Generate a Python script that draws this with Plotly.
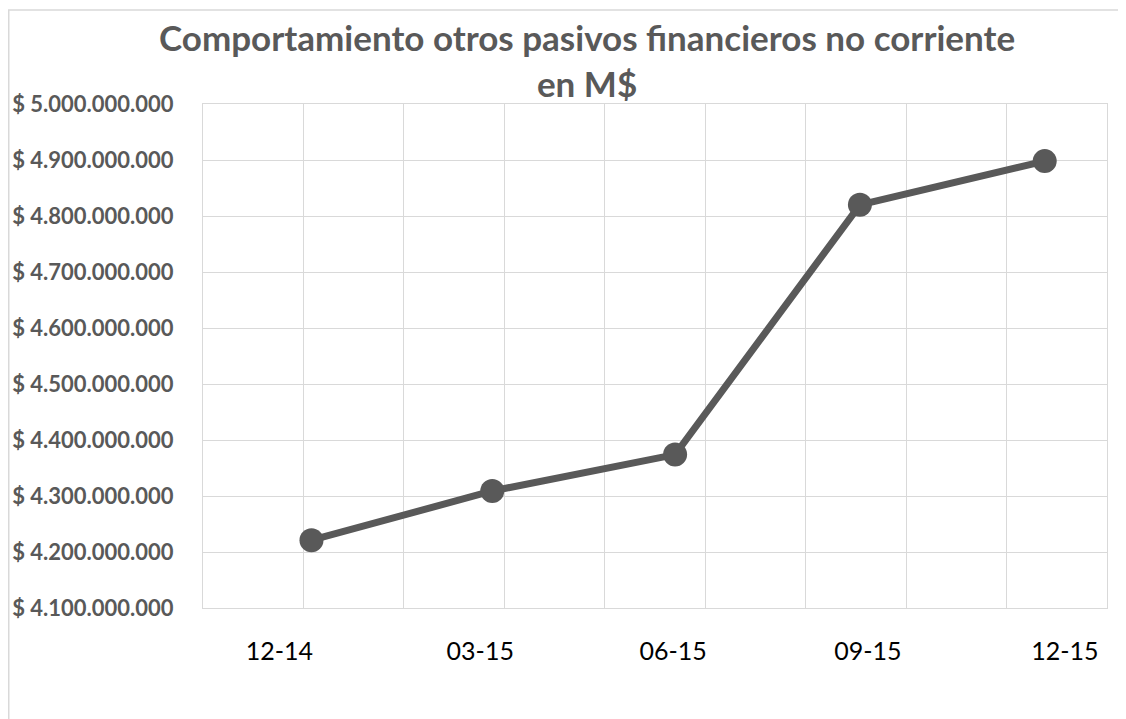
import plotly.graph_objects as go

# data
periods = ["2014-12-31", "2015-03-31", "2015-06-30", "2015-09-30", "2015-12-31"]
values = [4221000000, 4309000000, 4374000000, 4820000000, 4898000000]
tick_labels = ["12-14", "03-15", "06-15", "09-15", "12-15"]

# layout constants (where Excel put the date labels)
label_pos = ["2014-12-15", "2015-03-25", "2015-06-29", "2015-10-04", "2016-01-10"]
DAY_MS = 86400000

GRID = "#d9d9d9"
DARK = "#595959"

# page body has an 8px margin, so the figure is a bit smaller than the window
W, H = 1118, 711
L, R, T, B = 195, 19, 96, 111
PW, PH = W - L - R, H - T - B


def px(x):
    return (x - L) / PW


def py(y):
    return (H - B - y) / PH


fig = go.Figure()

fig.add_trace(go.Scatter(
    x=periods,
    y=values,
    mode="lines+markers",
    line=dict(color=DARK, width=7),
    marker=dict(color=DARK, size=24),
    showlegend=False,
    hoverinfo="x+y",
))

fig.update_layout(
    width=W,
    height=H,
    autosize=False,
    paper_bgcolor="white",
    plot_bgcolor="white",
    separators=",.",
    margin=dict(l=L, r=R, t=T, b=B),
    font=dict(family="Lato, sans-serif"),
)

fig.add_annotation(
    text="<b>Comportamiento otros pasivos financieros no corriente<br>en M$</b>",
    xref="paper", yref="paper",
    x=px(579), y=py(6),
    xanchor="center", yanchor="top",
    showarrow=False,
    font=dict(size=35, color=DARK),
)

fig.update_xaxes(
    type="date",
    range=["2014-11-07", "2016-01-31"],
    tickvals=label_pos,
    ticktext=tick_labels,
    ticks="",
    showgrid=False,
    automargin=False,
    tickfont=dict(size=25, color="black"),
    ticklabelstandoff=21,
    showline=True,
    linecolor=GRID,
    linewidth=1,
    mirror=True,
    minor=dict(tick0="2014-11-07", dtick=50 * DAY_MS, showgrid=True,
               gridcolor=GRID, gridwidth=1),
    zeroline=False,
)

fig.update_yaxes(
    range=[4100000000, 5000000000],
    dtick=100000000,
    tickformat=",.0f",
    tickprefix="$ ",
    automargin=False,
    tickfont=dict(size=22, color=DARK, family="Lato, sans-serif", weight="bold"),
    ticklabelstandoff=24,
    gridcolor=GRID,
    gridwidth=1,
    showline=True,
    linecolor=GRID,
    linewidth=1,
    mirror=True,
    zeroline=False,
)

# chart area border, as in the Excel export
fig.add_shape(
    type="rect", xref="paper", yref="paper",
    x0=px(0.75), x1=px(W + 20),
    y0=py(H + 20), y1=py(2),
    line=dict(color=GRID, width=1.5),
    fillcolor="rgba(0,0,0,0)",
    layer="below",
)

fig.write_html("out.html")
